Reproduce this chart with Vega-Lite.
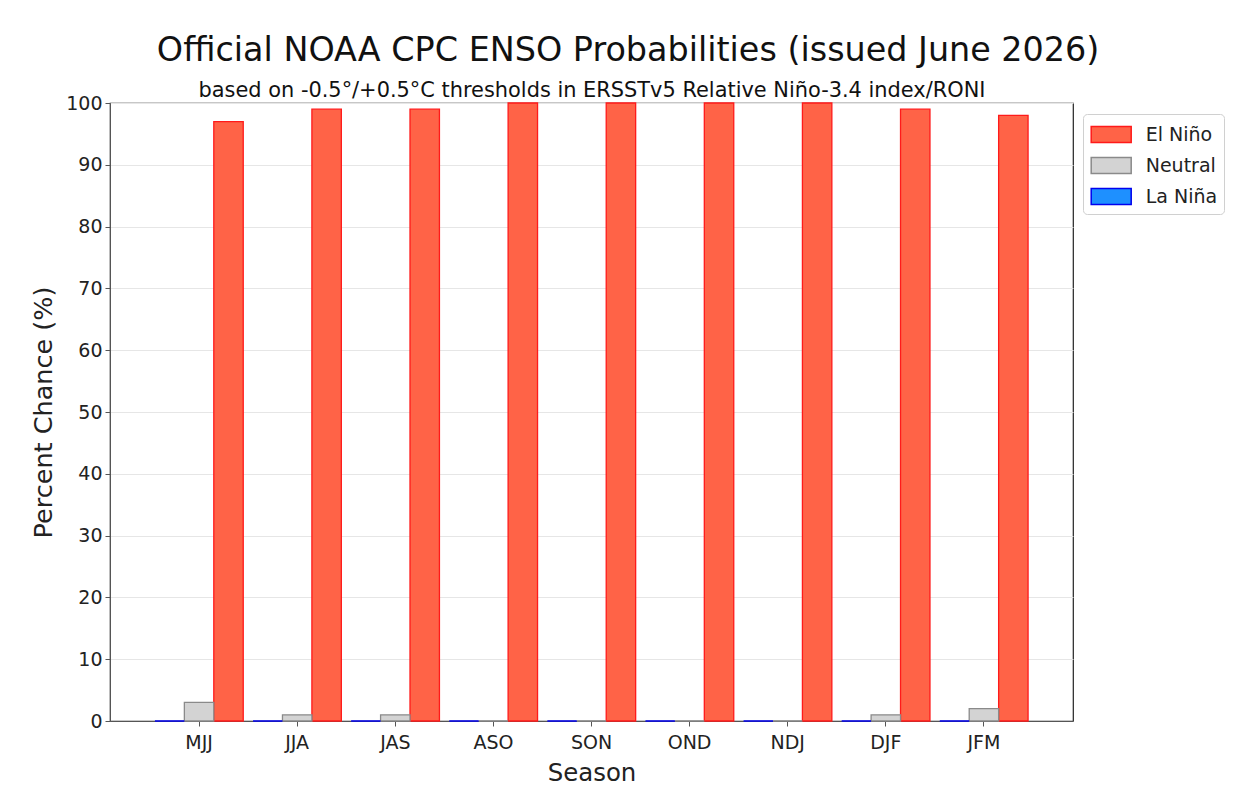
{
  "$schema": "https://vega.github.io/schema/vega-lite/v6.json",
  "width": 963,
  "height": 618,
  "padding": {"left": 31, "top": 33, "right": 5, "bottom": 5},
  "background": "white",
  "title": {
    "text": "Official NOAA CPC ENSO Probabilities (issued June 2026)",
    "anchor": "middle",
    "frame": "bounds",
    "fontSize": 33.4,
    "fontWeight": "normal",
    "color": "#111",
    "offset": 11
  },
  "data": {
    "values": [
      {"season": "MJJ", "category": "El Niño", "pct": 97},
      {"season": "MJJ", "category": "Neutral", "pct": 3},
      {"season": "MJJ", "category": "La Niña", "pct": 0},
      {"season": "JJA", "category": "El Niño", "pct": 99},
      {"season": "JJA", "category": "Neutral", "pct": 1},
      {"season": "JJA", "category": "La Niña", "pct": 0},
      {"season": "JAS", "category": "El Niño", "pct": 99},
      {"season": "JAS", "category": "Neutral", "pct": 1},
      {"season": "JAS", "category": "La Niña", "pct": 0},
      {"season": "ASO", "category": "El Niño", "pct": 100},
      {"season": "ASO", "category": "Neutral", "pct": 0},
      {"season": "ASO", "category": "La Niña", "pct": 0},
      {"season": "SON", "category": "El Niño", "pct": 100},
      {"season": "SON", "category": "Neutral", "pct": 0},
      {"season": "SON", "category": "La Niña", "pct": 0},
      {"season": "OND", "category": "El Niño", "pct": 100},
      {"season": "OND", "category": "Neutral", "pct": 0},
      {"season": "OND", "category": "La Niña", "pct": 0},
      {"season": "NDJ", "category": "El Niño", "pct": 100},
      {"season": "NDJ", "category": "Neutral", "pct": 0},
      {"season": "NDJ", "category": "La Niña", "pct": 0},
      {"season": "DJF", "category": "El Niño", "pct": 99},
      {"season": "DJF", "category": "Neutral", "pct": 1},
      {"season": "DJF", "category": "La Niña", "pct": 0},
      {"season": "JFM", "category": "El Niño", "pct": 98},
      {"season": "JFM", "category": "Neutral", "pct": 2},
      {"season": "JFM", "category": "La Niña", "pct": 0}
    ]
  },
  "layer": [
    {
      "mark": {"type": "bar", "strokeWidth": 1.3},
      "encoding": {
        "x": {
          "field": "season",
          "type": "nominal",
          "sort": ["MJJ", "JJA", "JAS", "ASO", "SON", "OND", "NDJ", "DJF", "JFM"],
          "scale": {"paddingInner": 0.1, "paddingOuter": 0.458},
          "axis": {
            "orient": "bottom",
            "title": "Season",
            "labelAngle": 0,
            "labelFontSize": 19,
            "labelColor": "#222",
            "labelPadding": 7,
            "tickSize": 5,
            "tickColor": "#555",
            "domainColor": "#555",
            "titleFontSize": 24.4,
            "titleFontWeight": "normal",
            "titleColor": "#222",
            "titlePadding": 9
          }
        },
        "xOffset": {
          "field": "category",
          "type": "nominal",
          "scale": {"domain": ["La Niña", "Neutral", "El Niño"], "paddingInner": 0, "paddingOuter": 0}
        },
        "y": {
          "field": "pct",
          "type": "quantitative",
          "scale": {"domain": [0, 100], "nice": false},
          "axis": {
            "title": "Percent Chance (%)",
            "values": [0, 10, 20, 30, 40, 50, 60, 70, 80, 90, 100],
            "labelFontSize": 19,
            "labelColor": "#222",
            "labelPadding": 3,
            "tickSize": 5,
            "tickColor": "#555",
            "domainColor": "#555",
            "grid": true,
            "gridColor": "#e6e6e6",
            "titleFontSize": 25.5,
            "titleFontWeight": "normal",
            "titleColor": "#222",
            "titlePadding": 9
          }
        },
        "color": {
          "field": "category",
          "type": "nominal",
          "scale": {"domain": ["El Niño", "Neutral", "La Niña"], "range": ["#ff6347", "#d3d3d3", "#1e90ff"]},
          "legend": {"title": null}
        },
        "stroke": {
          "field": "category",
          "type": "nominal",
          "scale": {"domain": ["El Niño", "Neutral", "La Niña"], "range": ["#ff1a1a", "#8a8a8a", "#0000ee"]},
          "legend": {"title": null}
        }
      }
    },
    {
      "mark": {"type": "rule", "opacity": 0},
      "encoding": {
        "x": {
          "field": "season",
          "type": "nominal",
          "sort": ["MJJ", "JJA", "JAS", "ASO", "SON", "OND", "NDJ", "DJF", "JFM"],
          "axis": {
            "orient": "top",
            "title": "based on -0.5°/+0.5°C thresholds in ERSSTv5 Relative Niño-3.4 index/RONI",
            "labels": false,
            "ticks": false,
            "domain": false,
            "titleFontSize": 20.9,
            "titleFontWeight": "normal",
            "titleColor": "#111",
            "titlePadding": 3
          }
        }
      }
    }
  ],
  "resolve": {"axis": {"x": "independent"}},
  "config": {
    "font": "DejaVu Sans",
    "view": {"stroke": "#222", "strokeWidth": 1.2},
    "axis": {"gridWidth": 1},
    "legend": {
      "orient": "none",
      "legendX": 973,
      "legendY": 11,
      "padding": 6,
      "strokeColor": "#d0d0d0",
      "fillColor": "white",
      "cornerRadius": 4,
      "labelFontSize": 19,
      "labelColor": "#222",
      "labelOffset": 20,
      "symbolType": "M-1.5,-0.6H1.5V0.6H-1.5Z",
      "symbolSize": 711,
      "symbolOffset": 7.7,
      "symbolStrokeWidth": 1.5,
      "rowPadding": 5
    }
  }
}
